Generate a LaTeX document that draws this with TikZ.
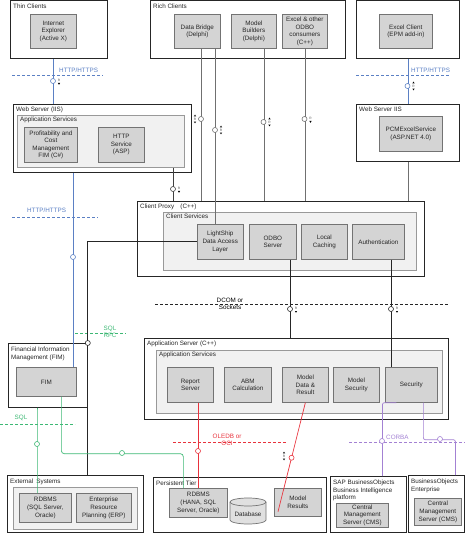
\documentclass[tikz,border=0pt]{standalone}
\usepackage{fontspec}
\setmainfont{Liberation Sans}
\usepackage{xcolor}

\definecolor{linkblue}{HTML}{5B80C4}
\definecolor{linkgreen}{HTML}{3DB874}
\definecolor{linkred}{HTML}{E8323C}
\definecolor{linkpurple}{HTML}{A381D3}
\definecolor{linkgray}{HTML}{707070}
\definecolor{compfill}{HTML}{D4D4D4}
\definecolor{svcfill}{HTML}{F1F1F1}
\definecolor{inktext}{HTML}{262626}

\tikzset{
  tier/.style={draw=black!85, line width=0.8pt, fill=white, anchor=north west, inner sep=0},
  svc/.style={draw=black!40, line width=0.7pt, fill=svcfill, anchor=north west, inner sep=0},
  comp/.style={draw=black!55, line width=0.7pt, fill=compfill, anchor=north west,
    inner sep=0.5pt, align=center, text=inktext},
  ttl/.style={anchor=north west, inner sep=0, align=left, text=inktext},
  port/.style={circle, draw, fill=white, line width=0.6pt, minimum size=5pt, inner sep=0},
  link/.style={draw=linkgray, line width=0.7pt},
  blk/.style={draw=black!85, line width=0.8pt},
  fence/.style={dash pattern=on 3pt off 2pt, line width=0.8pt},
  pics/rdn/.style={code={
    \node[font=\fontsize{3.2}{3.2}\selectfont, inner sep=0, text=black!70] (-r) at (0,-1) {R};
    \fill (-1.1,2) -- (1.1,2) -- (0,3.8) -- cycle;
  }},
  pics/rud/.style={code={
    \fill (-1.1,-2.6) -- (1.1,-2.6) -- (0,-4.4) -- cycle;
    \node[font=\fontsize{3.2}{3.2}\selectfont, inner sep=0, text=black!70] (-r) at (0,0) {R};
    \fill (-1.1,2.6) -- (1.1,2.6) -- (0,4.4) -- cycle;
  }},
}

\begin{document}
\begin{tikzpicture}[x=1pt, y=-1pt,
    every node/.style={font=\fontsize{6.3}{7.6}\selectfont}]
  \useasboundingbox (0,0) rectangle (474,534);

  % Clients
  \node[tier, minimum width=97, minimum height=58] (thin) at (10,0.5) {};
  \node[ttl] (thinttl) at ([shift={(3,3)}]thin.north west) {Thin Clients};
  \node[comp, minimum width=46, minimum height=34] (ie) at (30,14) {Internet\\Explorer\\(Active X)};

  \node[tier, minimum width=195, minimum height=58] (rich) at (150,0.5) {};
  \node[ttl] (richttl) at ([shift={(3,3)}]rich.north west) {Rich Clients};
  \node[comp, minimum width=46, minimum height=34] (bridge) at (174,14) {Data Bridge\\(Delphi)};
  \node[comp, minimum width=45, minimum height=34] (builders) at (231,14) {Model\\Builders\\(Delphi)};
  \node[comp, minimum width=45, minimum height=34] (odboc) at (282,14) {Excel \& other\\ODBO\\consumers\\(C++)};

  \node[tier, minimum width=103, minimum height=58] (xlbox) at (356,0.5) {};
  \node[comp, minimum width=53, minimum height=34] (xlc) at (379,14) {Excel Client\\(EPM add-in)};

  % Web servers
  \node[tier, minimum width=178, minimum height=68] (wsl) at (13,104) {};
  \node[ttl] (wslttl) at ([shift={(3,3)}]wsl.north west) {Web Server (IIS)};
  \node[svc, minimum width=167, minimum height=52] (wslsvc) at (17,115) {};
  \node[ttl] (wslsvcttl) at ([shift={(3,2)}]wslsvc.north west) {Application Services};
  \node[comp, minimum width=53, minimum height=35] (pcm) at (24,127) {Profitability and\\Cost\\Management\\FIM (C\#)};
  \node[comp, minimum width=46, minimum height=35] (http) at (98,127) {HTTP\\Service\\(ASP)};

  \node[tier, minimum width=103, minimum height=57] (wsr) at (356,104) {};
  \node[ttl] (wsrttl) at ([shift={(3,3)}]wsr.north west) {Web Server IIS};
  \node[comp, minimum width=63, minimum height=35] (pcmx) at (379,116) {PCMExcelService\\(ASP.NET 4.0)};

  % Client proxy
  \node[tier, minimum width=287, minimum height=75] (proxy) at (137,201) {};
  \node[ttl] (proxyttl) at ([shift={(3,3)}]proxy.north west) {Client Proxy\quad(C++)};
  \node[svc, minimum width=253, minimum height=58] (csvc) at (163,212) {};
  \node[ttl] (csvcttl) at ([shift={(3,2)}]csvc.north west) {Client Services};
  \node[comp, minimum width=46, minimum height=35] (lship) at (197,224) {LightShip\\Data Access\\Layer};
  \node[comp, minimum width=47, minimum height=35] (odbo) at (249,224) {ODBO\\Server};
  \node[comp, minimum width=46, minimum height=35] (cache) at (301,224) {Local\\Caching};
  \node[comp, minimum width=52, minimum height=35] (auth) at (352,224) {Authentication};

  % Application server
  \node[tier, minimum width=304, minimum height=81] (appsrv) at (144,338) {};
  \node[ttl] (appsrvttl) at ([shift={(3,3)}]appsrv.north west) {Application Server (C++)};
  \node[svc, minimum width=286, minimum height=63] (asvc) at (156,350) {};
  \node[ttl] (asvcttl) at ([shift={(3,2)}]asvc.north west) {Application Services};
  \node[comp, minimum width=46, minimum height=35] (report) at (167,367) {Report\\Server};
  \node[comp, minimum width=47, minimum height=35] (abm) at (224,367) {ABM\\Calculation};
  \node[comp, minimum width=46, minimum height=35] (mdata) at (282,367) {Model\\Data \&\\Result};
  \node[comp, minimum width=46, minimum height=35] (msec) at (333,367) {Model\\Security};
  \node[comp, minimum width=52, minimum height=35] (sec) at (385,367) {Security};

  % FIM
  \node[tier, minimum width=79, minimum height=64] (fimbox) at (8,343) {};
  \node[ttl] (fimttl) at ([shift={(3,4)}]fimbox.north west) {Financial Information\\Management (FIM)};
  \node[comp, minimum width=60, minimum height=29] (fim) at (16,367) {FIM};

  % Bottom tiers
  \node[tier, minimum width=136, minimum height=57] (ext) at (7,475) {};
  \node[ttl] (extttl) at ([shift={(3,4)}]ext.north west) {External\enspace Systems};
  \node[svc, minimum width=124, minimum height=42] (extsvc) at (13,487) {};
  \node[comp, minimum width=52, minimum height=29] (erdbms) at (19,493) {RDBMS\\(SQL Server,\\Oracle)};
  \node[comp, minimum width=55, minimum height=29] (erp) at (76,493) {Enterprise\\Resource\\Planning (ERP)};

  \node[tier, minimum width=173, minimum height=55] (persist) at (153,477) {};
  \node[ttl] (persistttl) at ([shift={(3,4)}]persist.north west) {Persistent Tier};
  \node[comp, minimum width=58, minimum height=29] (prdbms) at (169,488) {RDBMS\\(HANA, SQL\\Server, Oracle)};
  \draw[draw=black!55, line width=0.7pt, fill=black!12] (230,502) -- (230,520)
    arc[start angle=180, end angle=0, x radius=18, y radius=4] -- (266,502)
    arc[start angle=0, end angle=-180, x radius=18, y radius=4] -- cycle;
  \draw[draw=black!55, line width=0.7pt] (230,502) arc[start angle=180, end angle=0, x radius=18, y radius=4];
  \node[text=inktext] (dbtxt) at (248,514) {Database};
  \node[comp, minimum width=47, minimum height=28] (mres) at (274,488) {Model\\Results};

  \node[tier, minimum width=76, minimum height=56] (sapbi) at (330,476) {};
  \node[ttl] (sapttl) at ([shift={(3,4)}]sapbi.north west) {SAP BusinessObjects\\Business Intelligence\\platform};
  \node[comp, minimum width=52, minimum height=24] (cmsa) at (336,503) {Central\\Management\\Server (CMS)};

  \node[tier, minimum width=56, minimum height=57] (boe) at (408,475) {};
  \node[ttl] (boettl) at ([shift={(3,4)}]boe.north west) {BusinessObjects\\Enterprise};
  \node[comp, minimum width=47, minimum height=27] (cmsb) at (414,498) {Central\\Management\\Server (CMS)};

  % Protocol fences
  \draw[fence, linkblue] (12,75) -- (103,75);
  \node[text=linkblue, anchor=base west, inner sep=0] (httpa) at (59,73) {HTTP/HTTPS};
  \draw[fence, linkblue] (356,75) -- (450,75);
  \node[text=linkblue, anchor=base west, inner sep=0] (httpb) at (411,73) {HTTP/HTTPS};
  \draw[fence, linkblue] (12,217) -- (98,217);
  \node[text=linkblue, anchor=base west, inner sep=0] (httpc) at (27,212) {HTTP/HTTPS};
  \draw[fence, black!85] (155,304) -- (448,304);
  \node[align=center, inner sep=0, font=\fontsize{6.3}{7}\selectfont] (dcom) at (230,303.5) {DCOM or\\Sockets};
  \draw[fence, linkgreen] (75,333) -- (126,333);
  \node[align=center, inner sep=0, text=linkgreen, font=\fontsize{6.3}{7}\selectfont] (sqlrfc) at (110,332) {SQL\\RFC};
  \draw[fence, linkgreen] (0,424) -- (75,424);
  \node[text=linkgreen, inner sep=0] (sqlb) at (21,418) {SQL};
  \draw[fence, linkred] (173,442) -- (287,442);
  \node[align=center, inner sep=0, text=linkred, font=\fontsize{6.3}{6.5}\selectfont] (oledb) at (227,440) {OLEDB or\\OCI};
  \draw[fence, linkpurple] (349,442) -- (465,442);
  \node[text=linkpurple, anchor=west, inner sep=0] (corba) at (386,437) {CORBA};

  % HTTP links
  \draw[link, draw=linkblue] (ie.south |- thin.south) -- (ie.south |- wsl.north);
  \draw[link, draw=linkblue] (xlbox.south) -- (xlbox.south |- wsr.north);
  \draw[link, draw=linkblue] ([xshift=-3pt]fim.north east |- wsl.south) -- ([xshift=-3pt]fim.north east);

  % Rich client links
  \draw[link] ([xshift=4pt]bridge.south) -- ([xshift=4pt]bridge.south |- proxy.north);
  \draw[link] ([xshift=-5pt]lship.north |- bridge.south) -- ([xshift=-5pt]lship.north);
  \draw[link] ([xshift=10pt]builders.south) -- ([xshift=10pt]builders.south |- proxy.north);
  \draw[link] (odboc.south) -- (odboc.south |- proxy.north);
  \draw[link] (wsr.south) -- (wsr.south |- proxy.north);
  \draw[link, draw=black!75] ([xshift=-11pt]wslsvc.south east) -- ([xshift=-11pt]wslsvc.south east |- proxy.north);

  % Proxy to servers
  \draw[blk] (lship.west) -| ([xshift=80pt]ext.north west);
  \draw[blk] ([xshift=17.5pt]odbo.south) -- ([xshift=17.5pt]odbo.south |- appsrv.north);
  \draw[blk] ([xshift=13pt]auth.south) -- ([xshift=13pt]auth.south |- sec.north);

  % Database links
  \draw[link, draw=linkgreen] ([xshift=-10.5pt]fimbox.south) -- ([xshift=-8pt]erdbms.north);
  \draw[link, draw=linkgreen, rounded corners=3pt] ([xshift=15pt]fim.south) -- ++(0,57) -| ([xshift=-15pt]prdbms.north);
  \draw[link, draw=linkred] (prdbms.north |- report.south) -- (prdbms.north);
  \draw[link, draw=linkred] (mdata.south) -- ([shift={(4,-5)}]mres.south west)
    node[port, draw=linkred, pos=0.505] (pmres) {};

  % CORBA links
  \draw[link, draw=linkpurple, rounded corners=2pt] ([xshift=-15pt]sec.south) -| ([xshift=14pt]sapbi.north);
  \draw[link, draw=linkpurple, rounded corners=2pt] ([xshift=12pt]sec.south) -- ++(0,37) -| ([xshift=19pt]boe.north);

  % Ports
  \node[port, draw=linkblue] (pthin) at (53,81) {};
  \pic (mthin) at (59,81) {rdn};
  \node[port, draw=linkblue] (pxl) at (407.5,86) {};
  \pic (mxl) at (413.5,86) {rud};
  \node[port, draw=linkblue] (pfim) at (73,257) {};
  \node[port, draw=linkgray] (pbra) at (201,119) {};
  \pic (mbra) at (195,119) {rud};
  \node[port, draw=linkgray] (pbrb) at (215,130) {};
  \pic (mbrb) at (221,130) {rud};
  \node[port, draw=linkgray] (pbld) at (263.5,122) {};
  \pic (mbld) at (269.5,122) {rud};
  \node[port, draw=linkgray] (podc) at (304.5,119) {};
  \pic (modc) at (310.5,119) {rdn};
  \node[port, draw=black!75] (pwsl) at (173,189) {};
  \pic (mwsl) at (179,189) {rdn};
  \node[port, draw=black!85] (pfimc) at (fimbox.north east) {};
  \node[port, draw=black!85] (podbo) at (290,309) {};
  \pic (modbo) at (296,309) {rdn};
  \node[port, draw=black!85] (pauth) at (391,309) {};
  \pic (mauth) at (397,309) {rdn};
  \node[port, draw=linkgreen] (psqla) at (37,444) {};
  \node[port, draw=linkgreen] (psqlb) at (122,453) {};
  \node[port, draw=linkred] (prep) at (198,451) {};
  \pic (mmres) at (284,456) {rud};
  \node[port, draw=linkpurple] (psap) at (382,441) {};
  \node[port, draw=linkpurple] (pboe) at (440,439) {};
\end{tikzpicture}
\end{document}
